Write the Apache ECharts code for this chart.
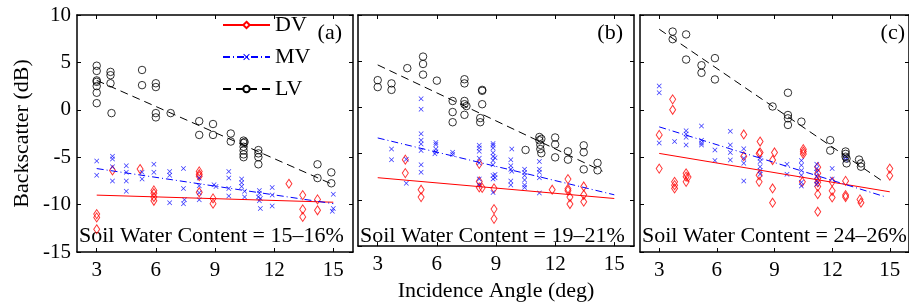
<!DOCTYPE html>
<html>
<head>
<meta charset="utf-8">
<script src="https://cdn.jsdelivr.net/npm/echarts@6.0.0/dist/echarts.min.js"></script>
<style>
  html, body { margin: 0; padding: 0; background: #fff; }
  #chart { width: 909px; height: 307px; }
</style>
</head>
<body>
<div id="chart"></div>
<script>
// tick labels
var xTicks = [3, 6, 9, 12, 15];
var panelLabels = ['(a)', '(b)', '(c)'];
var soilLabels = ['Soil Water Content = 15\u201316%', 'Soil Water Content = 19\u201321%', 'Soil Water Content = 24\u201326%'];

// (a) 15-16%
var dvA = [[3,-11.0],[3,-11.35],[3,-12.6],[3.8,-6.4],[5.2,-6.25],[5.9,-8.5],[5.9,-8.8],[5.9,-9.2],[5.9,-9.6],
  [8.2,-6.5],[8.2,-6.8],[8.2,-7.0],[8.2,-8.7],[8.9,-9.35],[8.9,-9.9],[12.75,-7.8],[13.45,-9.0],[13.45,-10.5],
  [13.45,-11.3],[14.2,-9.45],[14.2,-10.6]];
var mvA = [[3,-5.4],[3,-6.9],[3.8,-4.9],[3.8,-5.2],[3.8,-6.0],[3.8,-7.5],[4.5,-5.9],[4.5,-6.6],[4.5,-7.5],[4.5,-8.6],
  [5.3,-6.6],[5.3,-7.3],[5.9,-5.75],[5.9,-6.6],[6.7,-6.5],[6.7,-6.9],[6.7,-9.8],[7.4,-6.2],[7.4,-8.3],[7.45,-9.5],
  [7.4,-9.9],[8.2,-7.2],[8.2,-8.0],[8.2,-8.75],[8.2,-9.5],[8.95,-7.9],[9.05,-8.1],[9.7,-6.5],[9.7,-7.2],[9.7,-8.3],
  [9.7,-9.1],[10.35,-7.3],[10.35,-7.7],[10.35,-8.1],[10.5,-8.6],[10.5,-9.2],[11.25,-8.5],[11.25,-8.8],[11.2,-9.2],
  [11.3,-9.35],[11.25,-9.6],[11.3,-10.4],[11.9,-8.2],[11.9,-9.0],[11.9,-10.15],[15,-8.9],[15,-10.4],[14.95,-10.7]];
var lvA = [[3,4.65],[3,4.1],[3,3.1],[3,2.95],[3,2.5],[3,1.8],[3,0.7],[3.7,4.0],[3.7,3.65],[3.7,2.8],[3.75,-0.35],
  [5.3,4.2],[5.3,2.6],[6.0,2.8],[6.0,2.4],[6.0,-0.35],[6.0,-0.8],[6.75,-0.35],[8.2,-1.2],[8.2,-2.65],[8.9,-1.5],
  [8.9,-2.65],[9.8,-2.5],[9.8,-3.35],[10.45,-3.25],[10.45,-3.5],[10.45,-3.9],[10.45,-4.3],[10.45,-4.7],[10.45,-5.0],
  [10.5,-3.4],[11.2,-4.25],[11.2,-4.6],[11.2,-5.0],[11.2,-5.75],[14.2,-5.75],[14.2,-7.2],[14.9,-6.6],[14.9,-7.75]];
var dvFitA = [[3,-9.0],[15,-9.75]];
var mvFitA = [[3,-6.2],[15,-9.9]];
var lvFitA = [[3,3.1],[15,-7.9]];

// (b) 19-21%
var dvB = [[4.4,-5.65],[4.4,-7.1],[5.2,-8.9],[5.2,-9.7],[8.15,-6.1],[8.15,-8.0],[8.15,-8.65],[8.3,-8.7],[8.9,-8.75],
  [8.9,-11.0],[8.9,-12.05],[11.85,-8.9],[12.65,-7.75],[12.65,-8.8],[12.65,-9.0],[12.75,-9.7],[12.75,-10.45],
  [13.45,-8.55],[13.45,-9.45],[13.45,-10.2]];
var mvB = [[3.7,-4.5],[3.7,-5.65],[4.45,-5.6],[4.45,-8.2],[5.2,0.95],[5.2,-0.2],[5.2,-2.85],[5.2,-3.55],[5.2,-3.95],
  [5.2,-4.65],[5.2,-6.2],[5.2,-7.0],[5.95,-3.8],[5.95,-4.0],[5.95,-4.5],[5.95,-4.8],[5.9,-5.0],[6.8,-4.85],[6.8,-5.1],
  [8.15,-4.1],[8.15,-4.4],[8.15,-4.75],[8.15,-5.5],[8.15,-6.0],[8.15,-7.75],[8.15,-8.4],[8.85,-3.9],[8.85,-4.1],
  [8.85,-4.4],[8.85,-4.9],[8.85,-5.3],[8.85,-5.75],[8.85,-6.2],[8.85,-7.35],[8.85,-7.75],[8.85,-9.2],[8.95,-5.45],
  [8.95,-7.25],[8.95,-7.6],[9.8,-4.5],[9.75,-5.65],[9.75,-6.3],[9.75,-6.7],[9.8,-6.9],[9.75,-7.95],[9.75,-8.4],
  [10.45,-6.7],[10.45,-7.05],[10.45,-7.35],[10.45,-7.85],[10.45,-8.4],[10.45,-8.65],[11.2,-5.85],[11.2,-6.7],
  [11.2,-7.0],[11.2,-7.6],[11.2,-9.25]];
var lvB = [[3,2.95],[3,2.2],[3.7,2.6],[3.7,1.9],[4.5,4.25],[5.3,5.5],[5.3,4.7],[5.3,3.55],[6.0,2.9],[6.8,0.7],
  [6.8,-0.5],[6.8,-1.6],[7.4,3.05],[7.4,2.6],[7.4,0.7],[7.4,0.35],[7.5,0.15],[7.4,-0.8],[8.3,1.9],[8.3,1.8],
  [8.3,0.35],[8.2,-1.15],[8.2,-1.6],[10.5,-4.6],[11.2,-3.2],[11.2,-3.55],[11.25,-4.05],[11.25,-4.5],[11.3,-4.95],
  [11.3,-3.4],[12.0,-3.25],[12.0,-4.0],[12.0,-5.4],[12.65,-4.75],[12.65,-5.65],[13.45,-4.1],[13.45,-4.85],
  [13.45,-6.7],[14.15,-6.0],[14.15,-6.8]];
var dvFitB = [[3,-7.6],[15,-9.85]];
var mvFitB = [[3,-3.3],[15,-9.45]];
var lvFitB = [[3,4.6],[14.4,-6.9]];

// (c) 24-26%
var dvC = [[3,-2.65],[3,-6.2],[3.7,1.1],[3.7,0],[3.8,-7.6],[3.8,-7.95],[3.8,-8.3],[4.4,-6.7],[4.4,-7.05],[4.4,-7.6],
  [4.5,-7.1],[7.4,-2.6],[7.4,-4.9],[8.25,-3.35],[8.25,-4.5],[8.2,-4.6],[8.2,-6.9],[8.2,-7.6],[9.0,-4.5],[8.9,-5.3],
  [8.9,-8.3],[8.9,-9.8],[10.5,-4.15],[10.5,-4.4],[10.5,-4.65],[10.45,-7.6],[11.25,-6.05],[11.25,-6.7],[11.25,-7.25],
  [11.25,-7.65],[11.25,-8.1],[11.25,-8.9],[11.25,-10.75],[12.0,-7.6],[12.0,-8.55],[12.0,-9.25],[12.7,-7.5],
  [12.7,-9.0],[12.7,-9.2],[13.45,-9.45],[13.5,-9.8],[15,-6.2],[15,-6.95]];
var mvC = [[3,2.5],[3,1.8],[3,-3.5],[3.8,-3.35],[4.4,-2.2],[4.4,-2.55],[4.4,-2.9],[4.4,-3.7],[5.2,-1.7],[5.2,-3.2],
  [5.2,-3.5],[5.2,-3.7],[5.9,-4.25],[5.9,-5.35],[6.7,-2.25],[6.7,-3.7],[6.7,-4.5],[6.7,-5.3],[7.4,-4.1],[7.4,-5.1],
  [7.4,-5.65],[7.4,-7.5],[8.25,-5.1],[8.25,-5.45],[8.25,-6.0],[8.25,-6.4],[8.25,-6.8],[9.65,-5.75],[9.65,-6.8],
  [10.4,-5.35],[10.4,-5.85],[10.4,-6.4],[10.4,-6.9],[10.4,-7.65],[10.4,-8.05],[11.2,-5.75],[11.2,-6.2],[11.2,-6.6],
  [11.2,-7.05],[11.2,-7.5],[11.2,-7.85],[12.0,-6.2],[12.0,-7.3],[12.7,-5.0],[12.7,-5.3]];
var lvC = [[3.7,8.25],[3.7,7.45],[4.4,7.95],[4.4,5.3],[5.2,4.7],[5.2,3.9],[5.9,5.45],[5.9,3.2],[8.9,0.35],[9.7,1.8],
  [9.7,-0.55],[9.7,-0.9],[9.7,-1.6],[10.4,-1.25],[11.9,-3.2],[11.9,-4.3],[12.7,-4.4],[12.7,-4.65],[12.7,-4.95],
  [12.75,-5.15],[12.75,-5.65],[13.4,-5.25],[13.5,-5.65],[13.5,-6.0]];
var dvFitC = [[3,-4.6],[15,-8.65]];
var mvFitC = [[3,-1.8],[14.8,-9.2]];
var lvFitC = [[3,8.5],[14.6,-7.5]];

var panels = [
  { dv: dvA, mv: mvA, lv: lvA, dvFit: dvFitA, mvFit: mvFitA, lvFit: lvFitA },
  { dv: dvB, mv: mvB, lv: lvB, dvFit: dvFitB, mvFit: mvFitB, lvFit: lvFitB },
  { dv: dvC, mv: mvC, lv: lvC, dvFit: dvFitC, mvFit: mvFitC, lvFit: lvFitC }
];

var FONT = '"Liberation Serif", "Times New Roman", serif';
var RED = '#ff0000', BLUE = '#0000ff', BLACK = '#000000';
var crossPath = 'path://M0,1L1,0L5,4L9,0L10,1L6,5L10,9L9,10L5,6L1,10L0,9L4,5Z';
var gridLefts = [77, 358, 640];

var grids = [], xAxes = [], yAxes = [], series = [], graphics = [];

panels.forEach(function (p, i) {
  grids.push({ left: gridLefts[i], top: 15, width: 276, height: 237 });

  var line = { show: true, onZero: false, lineStyle: { color: BLACK, width: 1.5 } };
  var tick = { show: true, inside: true, length: 4, lineStyle: { color: BLACK, width: 1 } };

  // bottom + top x axes
  xAxes.push({
    type: 'value', gridIndex: i, position: 'bottom', min: 2, max: 16,
    axisLine: line,
    axisTick: Object.assign({ customValues: xTicks }, tick),
    axisLabel: { customValues: xTicks, color: BLACK, fontSize: 21, fontFamily: FONT, margin: 8 },
    splitLine: { show: false },
    name: i === 1 ? 'Incidence Angle (deg)' : '',
    nameLocation: 'middle', nameGap: 27,
    nameTextStyle: { color: BLACK, fontSize: 22, fontFamily: FONT }
  });
  xAxes.push({
    type: 'value', gridIndex: i, position: 'top', min: 2, max: 16,
    axisLine: line,
    axisTick: Object.assign({ customValues: xTicks }, tick),
    axisLabel: { show: false },
    splitLine: { show: false }
  });
  // left + right y axes
  yAxes.push({
    type: 'value', gridIndex: i, position: 'left', min: -15, max: 10, interval: 5,
    axisLine: line, axisTick: tick,
    axisLabel: { show: i === 0, color: BLACK, fontSize: 21, fontFamily: FONT, margin: 6 },
    splitLine: { show: false },
    name: i === 0 ? 'Backscatter (dB)' : '',
    nameLocation: 'middle', nameGap: 44, nameRotate: 90,
    nameTextStyle: { color: BLACK, fontSize: 22, fontFamily: FONT }
  });
  yAxes.push({
    type: 'value', gridIndex: i, position: 'right', min: -15, max: 10, interval: 5,
    axisLine: line, axisTick: tick,
    axisLabel: { show: false },
    splitLine: { show: false }
  });

  var xi = i * 2, yi = i * 2;
  series.push({
    type: 'scatter', name: 'DV pts ' + i, xAxisIndex: xi, yAxisIndex: yi, data: p.dv,
    symbol: 'diamond', symbolSize: [6, 9],
    itemStyle: { color: 'none', borderColor: RED, borderWidth: 1 }
  });
  series.push({
    type: 'scatter', name: 'MV pts ' + i, xAxisIndex: xi, yAxisIndex: yi, data: p.mv,
    symbol: crossPath, symbolSize: 5,
    itemStyle: { color: BLUE }
  });
  series.push({
    type: 'scatter', name: 'LV pts ' + i, xAxisIndex: xi, yAxisIndex: yi, data: p.lv,
    symbol: 'circle', symbolSize: 7.5,
    itemStyle: { color: 'none', borderColor: BLACK, borderWidth: 1 }
  });

  series.push({
    type: 'line', name: 'DV', xAxisIndex: xi, yAxisIndex: yi, data: p.dvFit,
    symbol: 'emptyDiamond', showSymbol: false, silent: true,
    itemStyle: { color: RED },
    lineStyle: { color: RED, width: 1 }
  });
  series.push({
    type: 'line', name: 'MV', xAxisIndex: xi, yAxisIndex: yi, data: p.mvFit,
    symbol: crossPath, showSymbol: false, silent: true,
    itemStyle: { color: BLUE },
    lineStyle: { color: BLUE, width: 1, type: [7, 3, 1, 3] }
  });
  series.push({
    type: 'line', name: 'LV', xAxisIndex: xi, yAxisIndex: yi, data: p.lvFit,
    symbol: 'emptyCircle', showSymbol: false, silent: true,
    itemStyle: { color: BLACK },
    lineStyle: { color: BLACK, width: 1, type: [8, 5] }
  });

  graphics.push({
    type: 'text', x: gridLefts[i] + 265, y: 33,
    style: { text: panelLabels[i], font: '22px ' + FONT, fill: BLACK, textAlign: 'right', textVerticalAlign: 'middle' }
  });
  graphics.push({
    type: 'text', x: gridLefts[i] + 2, y: 236,
    style: { text: soilLabels[i], font: '22px ' + FONT, fill: BLACK, textAlign: 'left', textVerticalAlign: 'middle' }
  });
});

var chart = echarts.init(document.getElementById('chart'), null, { renderer: 'canvas' });
chart.setOption({
  animation: false,
  backgroundColor: '#fff',
  grid: grids,
  xAxis: xAxes,
  yAxis: yAxes,
  legend: {
    data: ['DV', 'MV', 'LV'],
    orient: 'vertical', left: 222, top: 14,
    itemWidth: 47, itemHeight: 8, itemGap: 10, padding: 0,
    textStyle: { color: BLACK, fontSize: 22, fontFamily: FONT },
    selectedMode: false
  },
  graphic: graphics,
  series: series
});
</script>
</body>
</html>
